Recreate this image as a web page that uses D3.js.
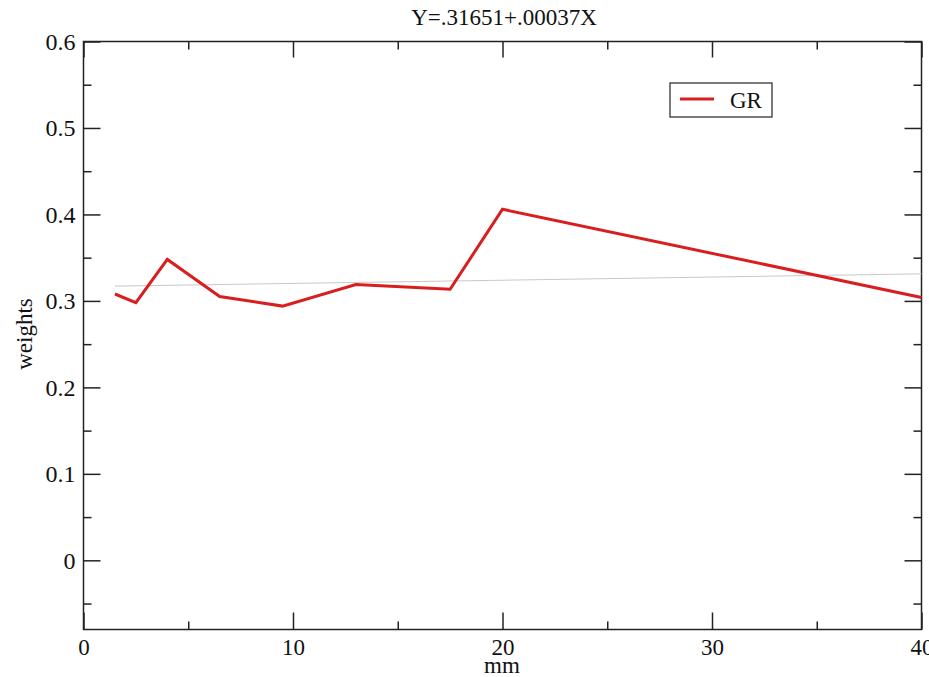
<!DOCTYPE html>
<html>
<head>
<meta charset="utf-8">
<script src="https://cdn.jsdelivr.net/npm/d3@7"></script>
<style>
  body { margin: 0; background: #fff; }
  svg { display: block; font-family: "Liberation Serif", "DejaVu Serif", serif; }
</style>
</head>
<body>
<svg width="929" height="677"></svg>
<script>
// data
const mm = [1.5, 2.5, 4, 6.5, 9.5, 13, 17.5, 20, 40];
const weights = [0.308, 0.298, 0.348, 0.305, 0.294, 0.319, 0.3135, 0.406, 0.304];
const fitX = [1.5, 40];
const fitY = [0.3171, 0.3313];
const xTicks = [0, 10, 20, 30, 40];
const yTicks = [0, 0.1, 0.2, 0.3, 0.4, 0.5, 0.6];
const title = "Y=.31651+.00037X";
const seriesName = "GR";

const svg = d3.select("svg");

const plotL = 83.5, plotR = 921.5, plotT = 41.5, plotB = 629.5;

const x = d3.scaleLinear().domain([0, 40]).range([plotL, plotR]);
const y = d3.scaleLinear().domain([-0.08, 0.6]).range([plotB, plotT]);

const red = "#d81e1e";

// frame
svg.append("rect")
  .attr("x", plotL).attr("y", plotT)
  .attr("width", plotR - plotL).attr("height", plotB - plotT)
  .attr("fill", "none").attr("stroke", "#222").attr("stroke-width", 1.5);

// axes (ticks point inward)
const xMinor = d3.range(5, 40, 10);
const yMinor = [-0.05].concat(d3.range(0.05, 0.6, 0.1));

const axisStyle = g => {
  g.select(".domain").remove();
  g.selectAll("line").attr("stroke", "#222").attr("stroke-width", 1.5);
};

svg.append("g")
  .attr("transform", `translate(0,${plotB})`)
  .call(d3.axisBottom(x).tickValues(xTicks).tickSize(-17).tickPadding(9).tickFormat(d3.format("d")))
  .call(axisStyle)
  .selectAll("text").attr("font-size", 23).attr("font-family", "Liberation Serif").attr("fill", "#111");

svg.append("g")
  .attr("transform", `translate(0,${plotB})`)
  .call(d3.axisBottom(x).tickValues(xMinor).tickSize(-8).tickFormat(""))
  .call(axisStyle);

svg.append("g")
  .attr("transform", `translate(0,${plotT})`)
  .call(d3.axisTop(x).tickValues(xTicks).tickSize(-16).tickFormat(""))
  .call(axisStyle);
svg.append("g")
  .attr("transform", `translate(0,${plotT})`)
  .call(d3.axisTop(x).tickValues(xMinor).tickSize(-8).tickFormat(""))
  .call(axisStyle);

svg.append("g")
  .attr("transform", `translate(${plotL},0)`)
  .call(d3.axisLeft(y).tickValues(yTicks).tickSize(-17).tickPadding(8).tickFormat(d => d === 0 ? "0" : d3.format(".1f")(d)))
  .call(axisStyle)
  .selectAll("text").attr("font-size", 24).attr("font-family", "Liberation Serif").attr("fill", "#111");

svg.append("g")
  .attr("transform", `translate(${plotL},0)`)
  .call(d3.axisLeft(y).tickValues(yMinor).tickSize(-8).tickFormat(""))
  .call(axisStyle);

svg.append("g")
  .attr("transform", `translate(${plotR},0)`)
  .call(d3.axisRight(y).tickValues(yTicks).tickSize(-17).tickFormat(""))
  .call(axisStyle);
svg.append("g")
  .attr("transform", `translate(${plotR},0)`)
  .call(d3.axisRight(y).tickValues(yMinor).tickSize(-8).tickFormat(""))
  .call(axisStyle);

// fit line
svg.append("path")
  .datum(d3.zip(fitX, fitY))
  .attr("d", d3.line().x(d => x(d[0])).y(d => y(d[1])))
  .attr("fill", "none").attr("stroke", "#c8c8c8").attr("stroke-width", 1);

// data line
svg.append("path")
  .datum(d3.zip(mm, weights))
  .attr("d", d3.line().x(d => x(d[0])).y(d => y(d[1])))
  .attr("fill", "none").attr("stroke", red).attr("stroke-width", 3)
  .attr("stroke-linejoin", "miter");

// title and axis labels
svg.append("text")
  .attr("x", 504).attr("y", 25)
  .attr("text-anchor", "middle").attr("font-size", 23).attr("fill", "#111")
  .text(title);

svg.append("text")
  .attr("x", 502).attr("y", 673)
  .attr("text-anchor", "middle").attr("font-size", 23).attr("fill", "#111")
  .text("mm");

svg.append("text")
  .attr("transform", "translate(32,334) rotate(-90)")
  .attr("text-anchor", "middle").attr("font-size", 23).attr("fill", "#111")
  .text("weights");

// legend
const legend = svg.append("g").attr("transform", "translate(670,83)");
legend.append("rect")
  .attr("width", 102).attr("height", 34)
  .attr("fill", "#fff").attr("stroke", "#222").attr("stroke-width", 1.2);
legend.append("line")
  .attr("x1", 10).attr("x2", 44).attr("y1", 16).attr("y2", 16)
  .attr("stroke", red).attr("stroke-width", 3);
legend.append("text")
  .attr("x", 60).attr("y", 25)
  .attr("font-size", 23).attr("fill", "#111")
  .text(seriesName);
</script>
</body>
</html>
